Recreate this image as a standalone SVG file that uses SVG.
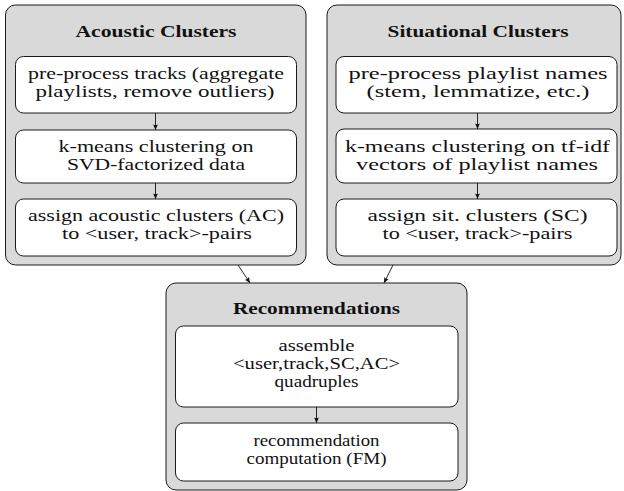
<svg xmlns="http://www.w3.org/2000/svg" width="624" height="491" viewBox="0 0 624 491">
<defs>
<style>
.outer{fill:#d9d9d9;stroke:#1a1a1a;stroke-width:1}
.inner{fill:#ffffff;stroke:#1a1a1a;stroke-width:1}
text{font-family:"Liberation Serif","Times New Roman",serif;font-size:16px;fill:#111;text-anchor:middle}
.title{font-weight:bold;font-size:16.5px}
.conn{stroke:#111;stroke-width:0.9;fill:none;marker-end:url(#ah)}
</style>
<marker id="ah" markerWidth="8" markerHeight="8" viewBox="-6 -4 8 8" refX="0" refY="0" orient="auto" markerUnits="userSpaceOnUse">
<path d="M0,0 L-5.5,-2.4 Q-4,0 -5.5,2.4 Z" fill="#111"/>
</marker>
</defs>
<rect width="624" height="491" fill="#ffffff"/>

<g id="acoustic">
<rect class="outer" x="5.5" y="5" width="300.5" height="260" rx="10"/>
<text class="title" x="156" y="37" textLength="161" lengthAdjust="spacingAndGlyphs">Acoustic Clusters</text>
<g id="ac1">
<rect class="inner" x="15.5" y="56.5" width="281" height="56.5" rx="8"/>
<text x="156" y="79" textLength="256" lengthAdjust="spacingAndGlyphs">pre-process tracks (aggregate</text>
<text x="155" y="97" textLength="239" lengthAdjust="spacingAndGlyphs">playlists, remove outliers)</text>
</g>
<g id="ac2">
<rect class="inner" x="15.5" y="130" width="281" height="53" rx="8"/>
<text x="156" y="152" textLength="195" lengthAdjust="spacingAndGlyphs">k-means clustering on</text>
<text x="156" y="170" textLength="178" lengthAdjust="spacingAndGlyphs">SVD-factorized data</text>
</g>
<g id="ac3">
<rect class="inner" x="15.5" y="199" width="281" height="57" rx="8"/>
<text x="156" y="221" textLength="256" lengthAdjust="spacingAndGlyphs">assign acoustic clusters (AC)</text>
<text x="157" y="239" textLength="190" lengthAdjust="spacingAndGlyphs">to &lt;user, track&gt;-pairs</text>
</g>
</g>

<g id="situational">
<rect class="outer" x="327" y="5" width="294" height="260" rx="10"/>
<text class="title" x="478" y="37" textLength="181" lengthAdjust="spacingAndGlyphs">Situational Clusters</text>
<g id="sc1">
<rect class="inner" x="336" y="56.5" width="281" height="56.5" rx="8"/>
<text x="478" y="79" textLength="259" lengthAdjust="spacingAndGlyphs">pre-process playlist names</text>
<text x="478" y="97" textLength="223" lengthAdjust="spacingAndGlyphs">(stem, lemmatize, etc.)</text>
</g>
<g id="sc2">
<rect class="inner" x="336" y="129" width="281" height="54" rx="8"/>
<text x="477.5" y="152" textLength="265" lengthAdjust="spacingAndGlyphs">k-means clustering on tf-idf</text>
<text x="477" y="170" textLength="242" lengthAdjust="spacingAndGlyphs">vectors of playlist names</text>
</g>
<g id="sc3">
<rect class="inner" x="336" y="199" width="281" height="57" rx="8"/>
<text x="477.5" y="221" textLength="220" lengthAdjust="spacingAndGlyphs">assign sit. clusters (SC)</text>
<text x="477.5" y="239" textLength="190" lengthAdjust="spacingAndGlyphs">to &lt;user, track&gt;-pairs</text>
</g>
</g>

<g id="recommendations">
<rect class="outer" x="166" y="283" width="301" height="207" rx="10"/>
<text class="title" x="316.5" y="314" textLength="167" lengthAdjust="spacingAndGlyphs">Recommendations</text>
<g id="rc1">
<rect class="inner" x="175.5" y="326" width="282.5" height="81" rx="8"/>
<text x="316.5" y="351" textLength="76" lengthAdjust="spacingAndGlyphs">assemble</text>
<text x="316.5" y="369" textLength="167" lengthAdjust="spacingAndGlyphs">&lt;user,track,SC,AC&gt;</text>
<text x="316.5" y="387" textLength="84" lengthAdjust="spacingAndGlyphs">quadruples</text>
</g>
<g id="rc2">
<rect class="inner" x="175.5" y="423" width="282.5" height="58" rx="8"/>
<text x="316.5" y="446" textLength="126" lengthAdjust="spacingAndGlyphs">recommendation</text>
<text x="316.5" y="464" textLength="140" lengthAdjust="spacingAndGlyphs">computation (FM)</text>
</g>
</g>

<g id="connectors">
<line class="conn" x1="155.5" y1="113" x2="155.5" y2="130"/>
<line class="conn" x1="155.5" y1="183" x2="155.5" y2="199"/>
<line class="conn" x1="477.5" y1="113" x2="477.5" y2="129"/>
<line class="conn" x1="477.5" y1="183" x2="477.5" y2="199"/>
<line class="conn" x1="316.5" y1="407" x2="316.5" y2="423"/>
<line class="conn" x1="238" y1="265" x2="250" y2="283"/>
<line class="conn" x1="393" y1="265" x2="384" y2="283"/>
</g>
</svg>
